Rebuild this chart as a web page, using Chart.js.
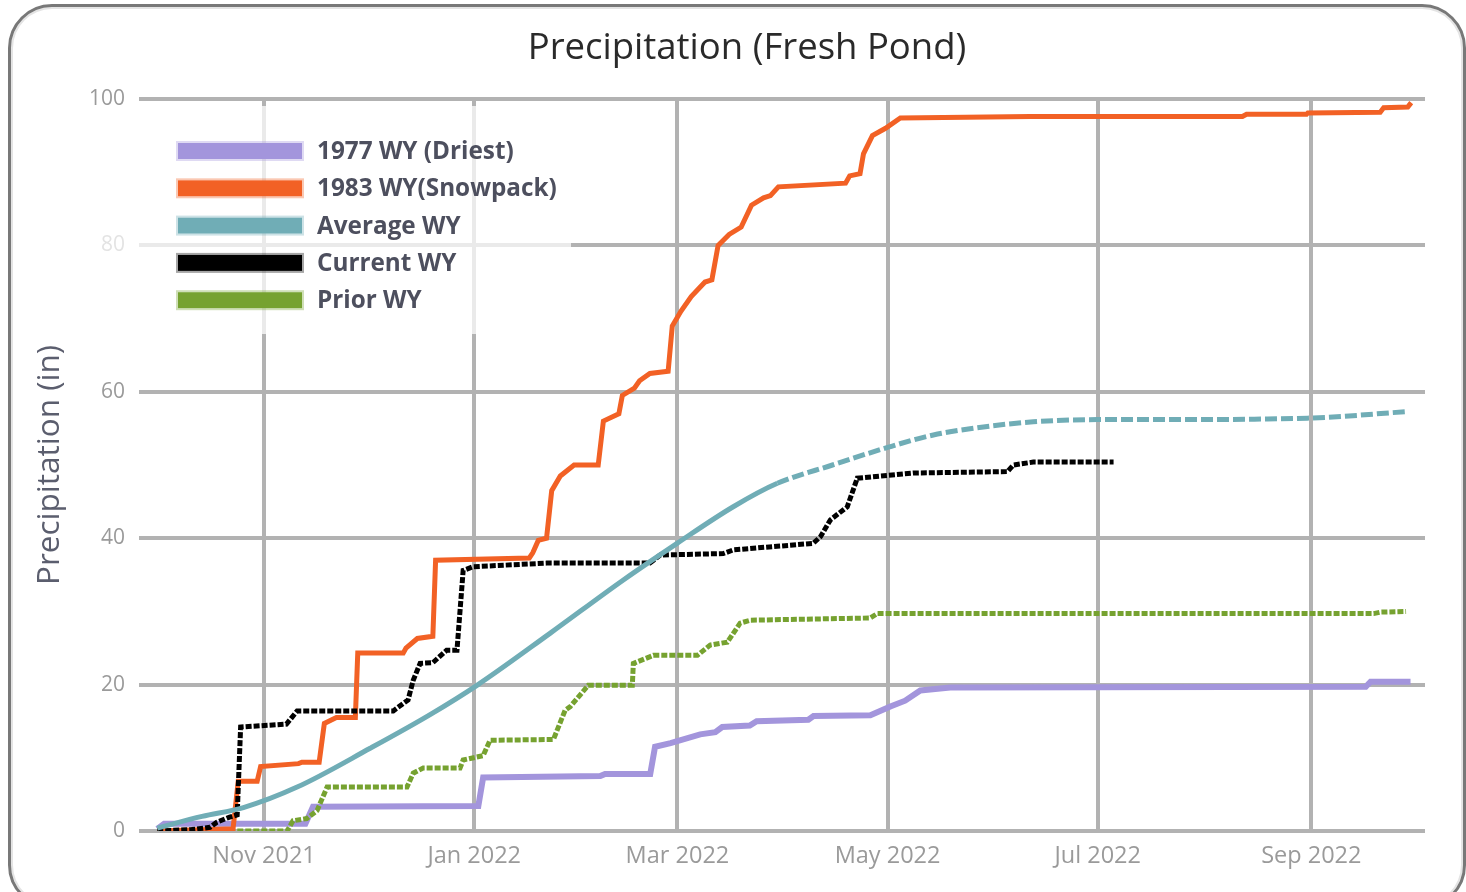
<!DOCTYPE html>
<html>
<head>
<meta charset="utf-8">
<script src="https://cdn.jsdelivr.net/npm/chart.js@4.4.1/dist/chart.umd.min.js"></script>
<style>
  html, body { margin: 0; padding: 0; background: #fff; }
  #wrap { position: relative; width: 1466px; height: 892px; overflow: hidden; background: #fff; }
  #frame { position: absolute; left: 8px; top: 4px; width: 1458px; height: 905px; box-sizing: border-box;
           border: 3px solid #787878; border-radius: 44px; box-shadow: inset 0 0 0 2px #e4e4e4; pointer-events: none; }
  canvas { position: absolute; left: 0; top: 0; }
</style>
</head>
<body>
<div id="wrap">
  <canvas id="c" width="1466" height="892"></canvas>
  <div id="frame"></div>
</div>
<script>
// ---- Data (x = days since 1 Oct 2021, y = cumulative precipitation in inches) ----
const chartTitle = 'Precipitation (Fresh Pond)';
const yAxisTitle = 'Precipitation (in)';
const seriesNames = ['1977 WY (Driest)', '1983 WY(Snowpack)', 'Average WY', 'Current WY', 'Prior WY'];

const tickDays = [31, 92, 151, 212, 273, 335];
const tickLabels = ['Nov 2021', 'Jan 2022', 'Mar 2022', 'May 2022', 'Jul 2022', 'Sep 2022'];
const yTicks = [0, 20, 40, 60, 80, 100];

const days1977 = [0, 2, 43, 45.2, 93.2, 94.6, 128.6, 130, 143.1, 144.5, 149, 157.6, 162, 164, 172, 174, 189, 190.5, 207, 212.8, 217.1, 221.5, 230.2, 350.8, 352.2, 363.8];
const inches1977 = [0.3, 1.0, 1.0, 3.3, 3.4, 7.3, 7.5, 7.8, 7.8, 11.5, 12, 13.2, 13.5, 14.2, 14.4, 15.0, 15.2, 15.7, 15.8, 17, 17.8, 19.2, 19.6, 19.7, 20.4, 20.4];

const days1983 = [0, 22, 23.5, 29, 30, 41, 42, 47, 48.5, 52, 57.5, 58.2, 71.4, 72.2, 75.5, 80, 80.8, 108, 109, 110.6, 113, 114.5, 117, 121, 128, 129.5, 134, 135, 138.5, 140, 143, 148.3, 149.5, 152, 155, 159, 161, 162.8, 166, 169.5, 172.5, 176, 178, 180.3, 199.8, 201, 204, 205, 207.6, 211.4, 215.7, 253.5, 315, 316.2, 333.6, 334, 355, 356, 363, 364];
const inches1983 = [0, 0.3, 6.8, 6.8, 8.8, 9.2, 9.4, 9.4, 14.7, 15.5, 15.5, 24.3, 24.3, 25.0, 26.3, 26.6, 37.0, 37.3, 38.0, 39.7, 40.0, 46.5, 48.5, 50, 50, 56, 57, 59.5, 60.5, 61.5, 62.5, 62.8, 69, 71, 73, 75, 75.3, 80, 81.5, 82.5, 85.5, 86.5, 86.8, 88, 88.5, 89.5, 89.8, 92.5, 95, 96, 97.4, 97.6, 97.6, 97.9, 97.9, 98.1, 98.2, 98.8, 98.9, 99.5];

const daysAvg = [0, 13, 25, 40.6, 61.8, 79.2, 92.8, 114, 135.3, 150.9, 167.2, 180, 196, 212, 225.3, 239.8, 254.3, 272.9, 288.3, 333.9, 363];
const inchesAvg = [0.4, 2.0, 3.2, 6.0, 11.3, 15.9, 19.9, 27.0, 34.3, 39.3, 44.3, 47.5, 50.0, 52.4, 54.1, 55.2, 55.9, 56.2, 56.2, 56.4, 57.3];

const daysCurrent = [0, 10, 15.3, 17.3, 21, 23.2, 24.2, 37.5, 40.6, 68.5, 72.8, 74.3, 76.3, 80, 84, 87, 88.8, 91.7, 113, 143, 146, 164.3, 167.2, 190.4, 192.5, 195.4, 200.3, 203.2, 219.5, 246.8, 248.5, 254.3, 277.6];
const inchesCurrent = [0, 0.2, 0.5, 1.2, 1.9, 2.2, 14.2, 14.6, 16.4, 16.4, 17.9, 20.6, 22.9, 23, 24.7, 24.7, 35.6, 36.1, 36.6, 36.6, 37.7, 37.9, 38.4, 39.3, 40.2, 42.5, 44.3, 48.2, 48.9, 49.1, 50.0, 50.4, 50.4];

const daysPrior = [0, 37.7, 39.4, 43.4, 46.4, 49.3, 72.5, 74.3, 77.2, 87.9, 88.8, 94.6, 96.6, 115, 118.4, 119.9, 125.1, 137.9, 138.2, 144, 156.8, 160.5, 165.5, 169.2, 172.1, 207, 209, 353.1, 355.1, 362.5];
const inchesPrior = [0, 0, 1.4, 1.7, 2.8, 6.0, 6.0, 7.9, 8.6, 8.6, 9.7, 10.3, 12.4, 12.5, 16.5, 17, 19.9, 19.9, 22.9, 24.0, 24.0, 25.4, 25.8, 28.4, 28.8, 29.1, 29.7, 29.7, 29.9, 30.0];

// ---- Build ----
const pts = (d, v) => d.map((x, i) => ({ x: x, y: v[i] }));
const FONT = '"Open Sans", "Noto Sans", sans-serif';
Chart.defaults.font.family = FONT;

const avgDashFrom = 178;

const datasets = [
  { label: seriesNames[0], data: pts(days1977, inches1977), borderColor: '#a395dc', backgroundColor: '#a395dc', borderWidth: 6, order: 4 },
  { label: seriesNames[1], data: pts(days1983, inches1983), borderColor: '#f26125', backgroundColor: '#f26125', borderWidth: 5, order: 2 },
  { label: seriesNames[2], data: pts(daysAvg, inchesAvg), borderColor: '#70adb6', backgroundColor: '#70adb6', borderWidth: 5, order: 0,
    cubicInterpolationMode: 'monotone',
    segment: { borderDash: c => (c.p0.parsed.x >= avgDashFrom ? [12, 4] : undefined) } },
  { label: seriesNames[3], data: pts(daysCurrent, inchesCurrent), borderColor: '#000000', backgroundColor: '#000000', borderWidth: 5, borderDash: [6, 2], order: 1 },
  { label: seriesNames[4], data: pts(daysPrior, inchesPrior), borderColor: '#76a230', backgroundColor: '#76a230', borderWidth: 5, borderDash: [6, 2], order: 3 }
];
datasets.forEach(d => { d.pointRadius = 0; d.pointHoverRadius = 0; d.fill = false; d.tension = d.tension || 0; });

const insideLegend = {
  id: 'insideLegend',
  afterDatasetsDraw(chart) {
    const c = chart.ctx;
    const a = chart.chartArea;
    c.save();
    c.fillStyle = 'rgba(255,255,255,0.72)';
    c.fillRect(a.left - 80, a.top + 7, 512, 228);
    chart.data.datasets.forEach((ds, i) => {
      const cy = a.top + 52 + i * 37.3;
      const bx = a.left + 39;
      c.globalAlpha = 0.35;
      c.strokeStyle = ds.borderColor;
      c.lineWidth = 2;
      c.strokeRect(bx - 1, cy - 9, 126, 18);
      c.globalAlpha = 1;
      c.fillStyle = ds.borderColor;
      c.fillRect(bx, cy - 8, 124, 16);
      c.font = 'bold 24.3px ' + FONT;
      c.fillStyle = '#4d4f5e';
      c.textBaseline = 'middle';
      c.textAlign = 'left';
      c.fillText(ds.label, bx + 139, cy + 1);
    });
    c.restore();
  }
};

new Chart(document.getElementById('c'), {
  type: 'line',
  data: { datasets: datasets },
  options: {
    responsive: false,
    animation: false,
    devicePixelRatio: 1,
    layout: { padding: { left: 69, right: 41, top: 6, bottom: 0 } },
    plugins: {
      legend: { display: false },
      tooltip: { enabled: false },
      title: { display: true, text: chartTitle, color: '#2a2a2a',
               font: { family: FONT, size: 36.5, weight: 'normal' }, padding: { top: 21, bottom: 28.2 } }
    },
    scales: {
      x: {
        type: 'linear', min: -5.3, max: 368,
        afterBuildTicks: s => { s.ticks = tickDays.map(v => ({ value: v })); },
        afterFit: s => { s.height = 61; },
        ticks: { callback: v => tickLabels[tickDays.indexOf(v)], color: '#9a9a9a', font: { size: 23.5 },
                 padding: 11, maxRotation: 0, autoSkip: false },
        grid: { color: '#b2b2b2', lineWidth: 4, drawTicks: false },
        border: { display: false }
      },
      y: {
        min: 0, max: 100,
        afterBuildTicks: s => { s.ticks = yTicks.map(v => ({ value: v })); },
        afterFit: s => { s.width = 70; },
        ticks: { color: '#9a9a9a', font: { size: 21 }, padding: 14 },
        grid: { color: '#b2b2b2', lineWidth: 4, drawTicks: false },
        border: { display: false },
        title: { display: true, text: yAxisTitle, color: '#5b5e6e', font: { size: 31.5 }, padding: { top: -38, bottom: 0 } }
      }
    }
  },
  plugins: [insideLegend]
});
</script>
</body>
</html>
